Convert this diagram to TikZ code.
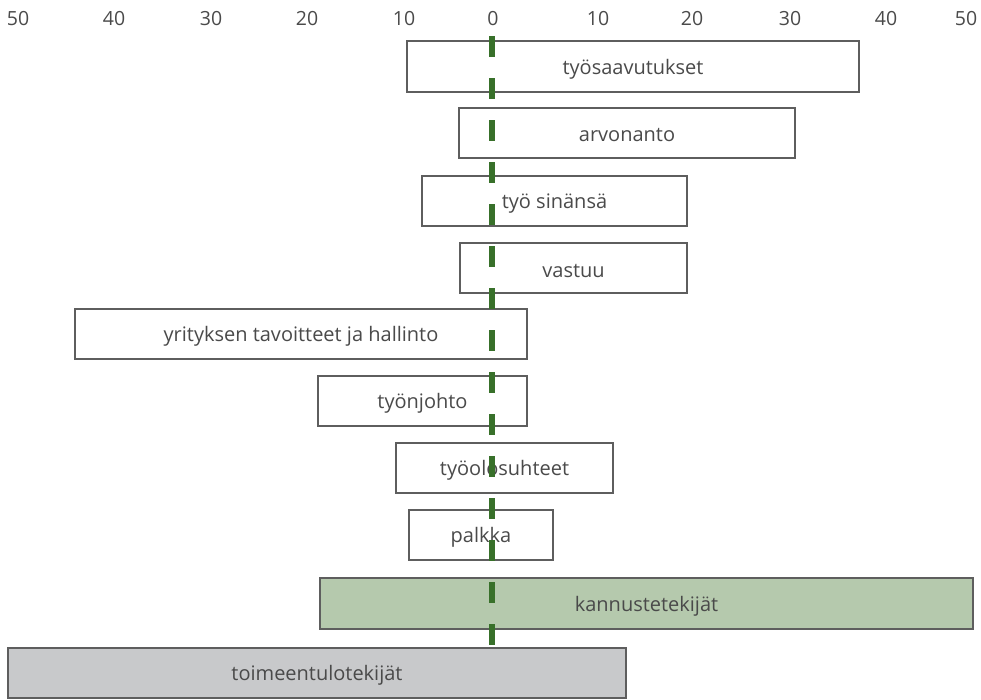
\documentclass[tikz,border=0pt]{standalone}
\usepackage{fontspec}
\setmainfont{Open Sans}
\definecolor{edge}{HTML}{5E5E5E}
\definecolor{txt}{HTML}{4A4A4A}
\definecolor{axisgreen}{HTML}{38702A}
\definecolor{greenfill}{HTML}{B5C9AD}
\definecolor{grayfill}{HTML}{C8C9CB}
\begin{document}
\begin{tikzpicture}[x=1pt,y=-1pt,
  bar/.style={draw=edge,line width=2.6pt,fill=white,inner sep=0pt},
  lbl/.style={text=txt,font=\fontsize{20}{22}\selectfont,inner sep=0pt,yshift=-2.5pt},
  tick/.style={text=txt,font=\fontsize{19.5}{22}\selectfont,inner sep=0pt}]
\useasboundingbox (0,0) rectangle (981,699);
\newcommand{\barbox}[6]{\node[bar,#6,minimum width=#3-#2,minimum height=#5-#4] (#1) at ({(#2+#3)/2},{(#4+#5)/2}) {};}
\barbox{b1}{407}{859}{41}{92}{}
\barbox{b2}{459}{795}{108}{158}{}
\barbox{b3}{422}{687}{176}{226}{}
\barbox{b4}{460}{687}{243}{293}{}
\barbox{b5}{75}{527}{309}{359}{}
\barbox{b6}{318}{527}{376}{426}{}
\barbox{b7}{396}{613}{443}{493}{}
\barbox{b8}{409}{553}{510}{560}{}
\barbox{b9}{320}{973}{578}{629}{fill=greenfill}
\barbox{b10}{8}{626}{648}{698}{fill=grayfill}
\node[lbl] at (b1.center) {työsaavutukset};
\node[lbl] at (b2.center) {arvonanto};
\node[lbl] at (b3.center) {työ sinänsä};
\node[lbl] at (b4.center) {vastuu};
\node[lbl] at (b5.center) {yrityksen tavoitteet ja hallinto};
\node[lbl] at (b6.center) {työnjohto};
\node[lbl] at (b7.center) {työolosuhteet};
\node[lbl] at (b8.center) {palkka};
\node[lbl] at (b9.center) {kannustetekijät};
\node[lbl] at (b10.center) {toimeentulotekijät};
\foreach \x/\l [count=\i] in {18/50,114/40,211/30,307/20,404/10,493/0,598/10,692/20,790/30,886/40,966/50}
  \node[tick] (t\i) at (\x,19) {\l};
\coordinate (ztop) at (492,36);
\coordinate (zbot) at (492,648);
\draw[axisgreen,line width=5.5pt,dash pattern=on 21pt off 21pt] (ztop) -- (zbot);
\end{tikzpicture}
\end{document}
